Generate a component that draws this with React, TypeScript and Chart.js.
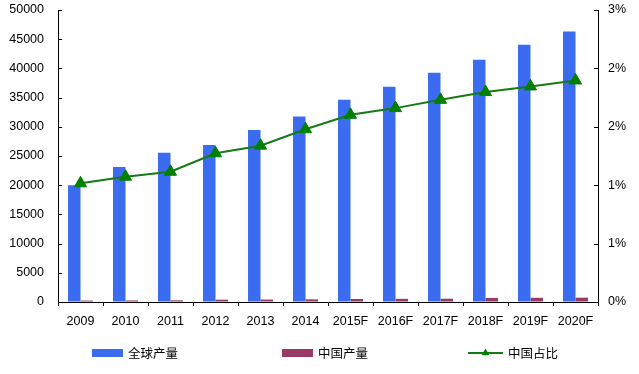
import React, { useEffect, useRef } from 'react';
import { Chart, registerables } from 'chart.js';

Chart.register(...registerables);

const categories = ['2009', '2010', '2011', '2012', '2013', '2014', '2015F', '2016F', '2017F', '2018F', '2019F', '2020F'];
const globalOutput = [20000, 23110, 25570, 26890, 29470, 31760, 34620, 36860, 39260, 41490, 44070, 46310];
const chinaOutput = [250, 270, 290, 400, 420, 450, 520, 540, 560, 700, 720, 740];
const chinaShare = [1.219, 1.287, 1.338, 1.528, 1.606, 1.775, 1.923, 1.992, 2.077, 2.157, 2.215, 2.276];
const seriesNames = ['全球产量', '中国产量', '中国占比'];

const BLUE = '#3b6cf0';
const PURPLE = '#983a68';
const GREEN_LINE = '#167a16';
const GREEN_MARK = '#008000';
const FONT = "'Liberation Sans', Arial, sans-serif";
const CJK = "'Noto Sans CJK SC', 'Noto Sans', sans-serif";

const tickPlugin = {
  id: 'inwardTicks',
  afterDatasetsDraw(chart: any) {
    const ctx = chart.ctx;
    const { left, right } = chart.chartArea;
    ctx.save();
    ctx.strokeStyle = '#000';
    ctx.lineWidth = 1;
    const yl = chart.scales.y;
    yl.ticks.forEach((_t: any, i: number) => {
      const py = Math.round(yl.getPixelForTick(i)) + 0.5;
      ctx.beginPath();
      ctx.moveTo(left, py);
      ctx.lineTo(left + 4, py);
      ctx.stroke();
    });
    const yr = chart.scales.y1;
    yr.ticks.forEach((_t: any, i: number) => {
      const py = Math.round(yr.getPixelForTick(i)) + 0.5;
      ctx.beginPath();
      ctx.moveTo(right, py);
      ctx.lineTo(right - 4, py);
      ctx.stroke();
    });
    ctx.restore();
  },
};

const legendPlugin = {
  id: 'customLegend',
  afterDraw(chart: any) {
    const ctx = chart.ctx;
    const cy = 353;
    ctx.save();
    ctx.font = `12.5px ${CJK}`;
    ctx.textBaseline = 'middle';
    ctx.fillStyle = BLUE;
    ctx.fillRect(92, cy - 4, 31, 8);
    ctx.fillStyle = '#000';
    ctx.fillText(seriesNames[0], 128, cy);
    ctx.fillStyle = PURPLE;
    ctx.fillRect(282, cy - 4, 31, 8);
    ctx.fillStyle = '#000';
    ctx.fillText(seriesNames[1], 318, cy);
    ctx.strokeStyle = GREEN_LINE;
    ctx.lineWidth = 2;
    ctx.beginPath();
    ctx.moveTo(468, cy);
    ctx.lineTo(503, cy);
    ctx.stroke();
    ctx.fillStyle = GREEN_MARK;
    const tx = 485.5, r = 4.5;
    ctx.beginPath();
    ctx.moveTo(tx, cy - r);
    ctx.lineTo(tx + r * 0.866, cy + r * 0.5);
    ctx.lineTo(tx - r * 0.866, cy + r * 0.5);
    ctx.closePath();
    ctx.fill();
    ctx.fillStyle = '#000';
    ctx.fillText(seriesNames[2], 508, cy);
    ctx.restore();
  },
};

export default function App() {
  const ref = useRef<HTMLCanvasElement | null>(null);
  useEffect(() => {
    if (!ref.current) return;
    const chart = new Chart(ref.current, {
      type: 'bar',
      data: {
        labels: categories,
        datasets: [
          {
            type: 'line',
            label: seriesNames[2],
            data: chinaShare,
            yAxisID: 'y1',
            borderColor: GREEN_LINE,
            borderWidth: 2,
            pointStyle: 'triangle',
            pointRadius: 7,
            pointBackgroundColor: GREEN_MARK,
            pointBorderColor: GREEN_MARK,
            pointBorderWidth: 1,
            tension: 0,
            order: 0,
          } as any,
          {
            label: seriesNames[0],
            data: globalOutput,
            backgroundColor: BLUE,
            yAxisID: 'y',
            categoryPercentage: 0.555,
            barPercentage: 1,
            order: 1,
          },
          {
            label: seriesNames[1],
            data: chinaOutput,
            backgroundColor: PURPLE,
            yAxisID: 'y',
            categoryPercentage: 0.555,
            barPercentage: 1,
            order: 2,
          },
        ],
      },
      options: {
        responsive: false,
        animation: false,
        layout: { padding: { top: 10, left: 0, right: 0, bottom: 0 } },
        plugins: {
          legend: { display: false },
          tooltip: { enabled: false },
        },
        scales: {
          x: {
            grid: {
              display: true,
              drawOnChartArea: false,
              drawTicks: true,
              tickLength: 4,
              color: '#000',
              offset: true,
            },
            border: { color: '#000', width: 1 },
            ticks: { color: '#000', font: { family: FONT, size: 12.5 }, padding: 8, maxRotation: 0, autoSkip: false },
            afterFit: (s: any) => { s.height = 72; },
          },
          y: {
            position: 'left',
            min: 0,
            max: 50000,
            ticks: {
              stepSize: 5000,
              color: '#000',
              font: { family: FONT, size: 12.5 },
              padding: 14,
              callback: (v: any) => String(v),
            },
            grid: { display: true, drawOnChartArea: false, drawTicks: false },
            border: { color: '#000', width: 1 },
            afterFit: (s: any) => { s.width = 58; s.paddingTop = 0; s.paddingBottom = 0; },
          },
          y1: {
            position: 'right',
            min: 0,
            max: 3,
            ticks: {
              stepSize: 0.6,
              color: '#000',
              font: { family: FONT, size: 12.5 },
              padding: 10,
              callback: (v: any) => `${Number(v).toFixed(0)}%`,
            },
            grid: { display: true, drawOnChartArea: false, drawTicks: false },
            border: { color: '#000', width: 1 },
            afterFit: (s: any) => { s.width = 41; s.paddingTop = 0; s.paddingBottom = 0; },
          },
        },
      } as any,
      plugins: [tickPlugin, legendPlugin],
    });
    return () => chart.destroy();
  }, []);
  return (
    <div style={{ position: 'fixed', left: 0, top: 0, width: 639, height: 374, background: '#fff' }}>
      <canvas ref={ref} width={639} height={374} />
    </div>
  );
}
